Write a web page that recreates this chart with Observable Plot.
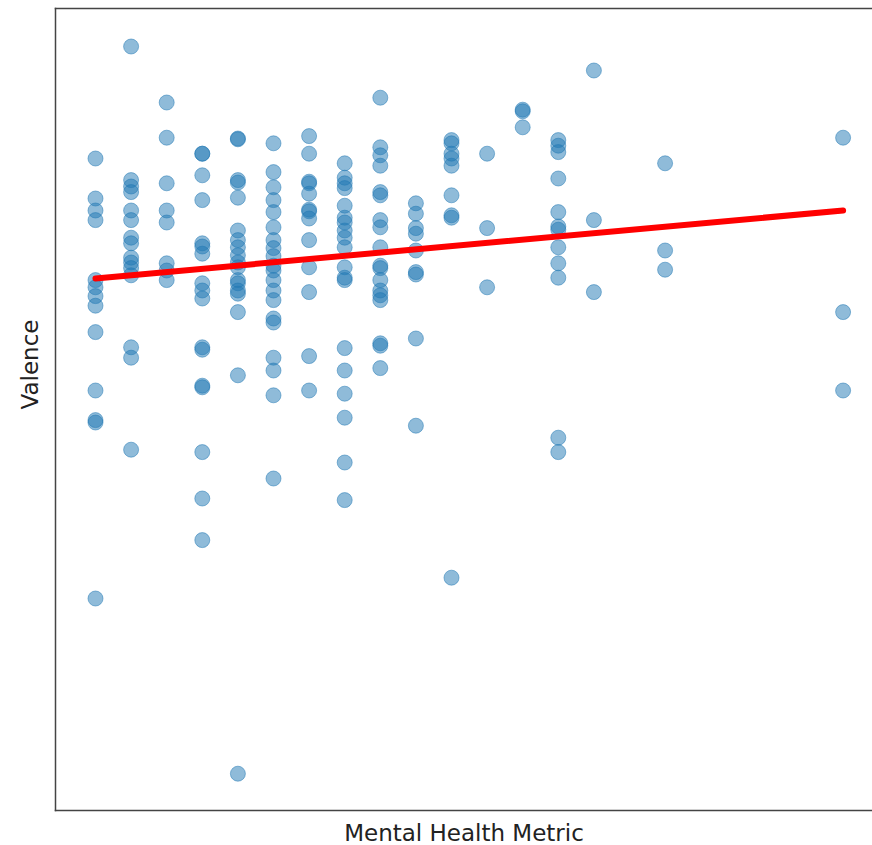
<!DOCTYPE html>
<html>
<head>
<meta charset="utf-8">
<script src="https://cdn.jsdelivr.net/npm/d3@7"></script>
<script src="https://cdn.jsdelivr.net/npm/@observablehq/plot@0.6"></script>
<style>
  html, body { margin: 0; padding: 0; background: #fff; overflow: hidden; }
  #chart svg { display: block; }
</style>
</head>
<body>
<div id="chart"></div>
<script>
// Mental health metric levels (x) and the valence values observed at each level
const metricLevels = [0, 1, 2, 3, 4, 5, 6, 7, 8, 9, 10, 11, 12, 13, 14, 16, 21];
const valenceByLevel = [
  [0.815, 0.765, 0.75, 0.738, 0.663, 0.654, 0.643, 0.631, 0.598, 0.525, 0.488, 0.485, 0.265],
  [0.955, 0.788, 0.78, 0.773, 0.75, 0.738, 0.716, 0.709, 0.691, 0.685, 0.678, 0.669, 0.579, 0.566, 0.451],
  [0.885, 0.841, 0.784, 0.75, 0.735, 0.684, 0.675, 0.663],
  [0.821, 0.821, 0.794, 0.763, 0.709, 0.705, 0.696, 0.659, 0.65, 0.64, 0.579, 0.576, 0.531, 0.529, 0.448, 0.39, 0.338],
  [0.84, 0.839, 0.788, 0.785, 0.766, 0.725, 0.713, 0.704, 0.694, 0.685, 0.679, 0.663, 0.659, 0.65, 0.646, 0.623, 0.544, 0.046],
  [0.834, 0.798, 0.779, 0.763, 0.748, 0.729, 0.713, 0.703, 0.693, 0.681, 0.675, 0.663, 0.65, 0.638, 0.615, 0.61, 0.566, 0.55, 0.519, 0.415],
  [0.843, 0.821, 0.786, 0.784, 0.771, 0.751, 0.749, 0.74, 0.713, 0.679, 0.648, 0.568, 0.525],
  [0.809, 0.791, 0.784, 0.778, 0.756, 0.741, 0.735, 0.725, 0.716, 0.704, 0.679, 0.666, 0.663, 0.578, 0.55, 0.521, 0.491, 0.435, 0.388],
  [0.891, 0.829, 0.819, 0.806, 0.773, 0.769, 0.738, 0.729, 0.704, 0.681, 0.678, 0.663, 0.65, 0.644, 0.638, 0.584, 0.581, 0.553],
  [0.759, 0.746, 0.728, 0.721, 0.7, 0.673, 0.67, 0.59, 0.481],
  [0.838, 0.834, 0.821, 0.815, 0.806, 0.769, 0.744, 0.741, 0.291],
  [0.821, 0.728, 0.654],
  [0.876, 0.874, 0.854],
  [0.838, 0.831, 0.823, 0.79, 0.748, 0.73, 0.726, 0.704, 0.684, 0.666, 0.466, 0.448],
  [0.925, 0.738, 0.648],
  [0.809, 0.7, 0.676],
  [0.841, 0.623, 0.525]
];
// Fitted trend line at its two ends
const trendMetric = [0, 21];
const trendValence = [0.665, 0.75];
const xLabel = "Mental Health Metric";
const yLabel = "Valence";

const points = metricLevels.flatMap((m, i) => valenceByLevel[i].map(v => ({metric: m, valence: v})));
const trend = trendMetric.map((m, i) => ({metric: m, valence: trendValence[i]}));

const blue = "#1f77b4";
const font = "DejaVu Sans, sans-serif";

const chart = Plot.plot({
  width: 872,
  height: 845,
  marginLeft: 55,
  marginRight: 0,
  marginTop: 8,
  marginBottom: 35,
  style: {fontFamily: font, background: "#fff"},
  x: {domain: [-1.1236, 21.826], axis: null},
  y: {domain: [0, 1.0025], axis: null},
  marks: [
    Plot.dot(points, {x: "metric", y: "valence", r: 7.5, fill: blue, fillOpacity: 0.5, stroke: blue, strokeOpacity: 0.5, strokeWidth: 1}),
    Plot.line(trend, {x: "metric", y: "valence", stroke: "red", strokeWidth: 6, strokeLinecap: "round"}),
    Plot.frame({anchor: "left", stroke: "#444", strokeWidth: 1.5}),
    Plot.frame({anchor: "top", stroke: "#444", strokeWidth: 1.5}),
    Plot.frame({anchor: "bottom", stroke: "#444", strokeWidth: 1.5}),
    Plot.text([xLabel], {frameAnchor: "bottom", dy: 23, text: d => d, fontSize: 23, fill: "#222", lineAnchor: "middle"}),
    Plot.text([yLabel], {frameAnchor: "left", dx: -25, rotate: -90, text: d => d, fontSize: 23, fill: "#222", lineAnchor: "middle"})
  ]
});
document.getElementById("chart").appendChild(chart);
</script>
</body>
</html>
